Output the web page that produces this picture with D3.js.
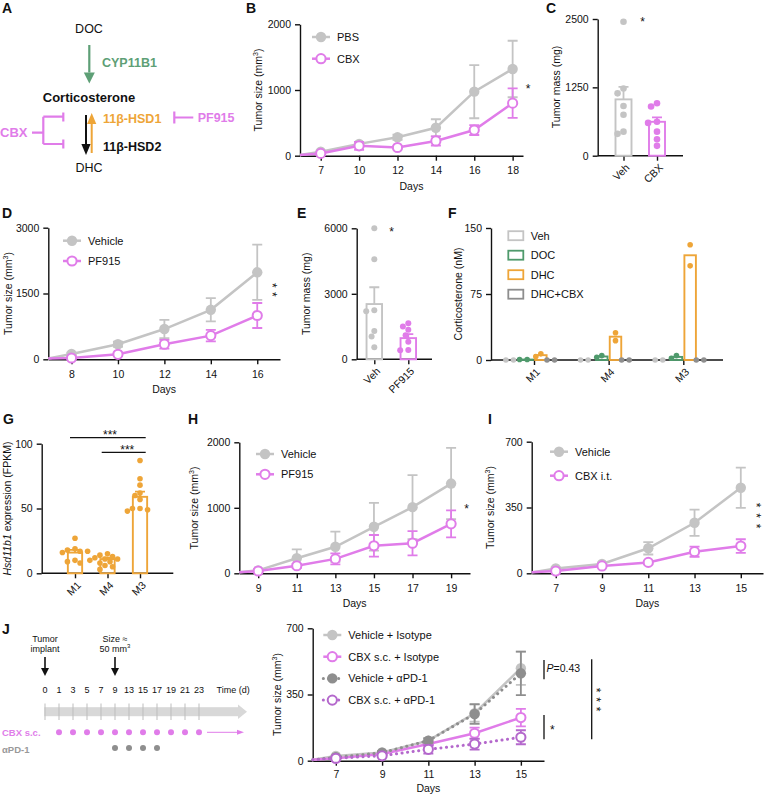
<!DOCTYPE html>
<html>
<head>
<meta charset="utf-8">
<script src="https://cdn.jsdelivr.net/npm/d3@7/dist/d3.min.js"></script>
<style>
  body { margin: 0; background: #fff; }
  svg { display: block; font-family: "Liberation Sans", Arial, Helvetica, sans-serif; }
</style>
</head>
<body>
<svg id="fig" width="765" height="794"></svg>
<script>
// colours
const GRAY = "#c4c4c4", DARK = "#8e8e8e", PINK = "#e07ce9", PURPLE = "#b468cc",
  ORANGE = "#eea538", GREEN = "#4f9a6c", TXTGREEN = "#5e9f76", INK = "#111";

// ---- data ----
// B
const bDays = ["7", "10", "12", "14", "16", "18"];
const bStart = 10;
const bPBS = [60, 180, 280, 425, 975, 1320];
const bPBSSem = [15, 30, 40, 130, 405, 430];
const bCBX = [35, 150, 125, 225, 390, 800];
const bCBXSem = [10, 60, 15, 70, 75, 225];
// C
const cGroups = ["Veh", "CBX"];
const cVeh = [2450, 1230, 1140, 910, 750, 440, 400];
const cCBX = [960, 900, 620, 600, 440, 300, 180];
const cMean = [1030, 620];
const cSem = [230, 80];
// D
const dDays = ["8", "10", "12", "14", "16"];
const dStart = 20;
const dVeh = [120, 343, 690, 1128, 1983];
const dVehSem = [30, 60, 210, 265, 630];
const dPF = [30, 114, 345, 540, 998];
const dPFSem = [10, 40, 100, 130, 285];
// E
const eGroups = ["Veh", "PF915"];
const eVeh = [6000, 4580, 2250, 2200, 1300, 1050, 550];
const ePF = [1650, 1500, 1350, 1100, 800, 430, 420];
const eMean = [2530, 970];
const eSem = [770, 180];
// F
const fGroups = ["M1", "M4", "M3"];
const fConds = ["Veh", "DOC", "DHC", "DHC+CBX"];
const fVeh = [[0, 0], [0, 0], [0, 0]];
const fDOC = [[0.5, 0.5], [3, 5], [2, 5]];
const fDHC = [[4, 7], [31, 22], [131, 107]];
const fDHCCBX = [[0, 0], [0, 0], [0, 0]];
// G
const gGroups = ["M1", "M4", "M3"];
const gM1 = [27, 19, 18, 17, 17, 16, 10, 9, 8];
const gM4 = [15, 14, 13, 12, 11, 11, 10, 9, 8, 6, 5, 3];
const gM3 = [87, 73, 68, 62, 60, 57, 50, 49, 48, 50];
const gMean = [16, 11, 59];
const gSem = [2, 1, 4];
// H
const hDays = ["9", "11", "13", "15", "17", "19"];
const hStart = 15;
const hVeh = [45, 230, 405, 710, 1010, 1370];
const hVehSem = [20, 135, 230, 365, 490, 545];
const hPF = [35, 115, 220, 420, 460, 755];
const hPFSem = [15, 30, 85, 165, 185, 205];
// I
const iDays = ["7", "9", "11", "13", "15"];
const iStart = 5;
const iVeh = [26, 50, 133, 269, 455];
const iVehSem = [5, 6, 33, 70, 107];
const iCBX = [12, 39, 58, 115, 145];
const iCBXSem = [4, 5, 7, 27, 36];
// J schedule
const jTime = ["0", "1", "3", "5", "7", "9", "13", "15", "17", "19", "21", "23"];
const jCBXDose = ["1", "3", "5", "7", "9", "13", "15", "17", "19", "21", "23"];
const jPD1Dose = ["9", "13", "15", "17"];
// J growth
const jDays = ["7", "9", "11", "13", "15"];
const jStart = 5;
const jVehIso = [25, 44, 106, 251, 489];
const jVehIsoSem = [5, 8, 15, 45, 88];
const jCBXIso = [13, 35, 88, 145, 228];
const jCBXIsoSem = [4, 6, 10, 30, 46];
const jVehPD1 = [18, 42, 106, 247, 462];
const jVehPD1Sem = [5, 8, 12, 52, 115];
const jCBXPD1 = [13, 26, 60, 88, 124];
const jCBXPD1Sem = [4, 6, 22, 29, 37];

const svg = d3.select("#fig");

function txt(g, x, y, s, o = {}) {
  return g.append("text").attr("x", x).attr("y", y).text(s)
    .attr("font-size", o.size || 10.5)
    .attr("font-weight", o.bold ? "bold" : null)
    .attr("font-style", o.italic ? "italic" : null)
    .attr("fill", o.color || INK)
    .attr("text-anchor", o.anchor || "start")
    .attr("dy", o.dy || null);
}

// one star, or a vertical column of them drawn as one turned text
function stars(x, y, n = 1, gap = 9.7) {
  if (n === 1) {
    txt(svg, x, y, "*", { size: 12, anchor: "middle", dy: "0.62em" });
    return;
  }
  const mid = y + (n - 1) * gap / 2;
  svg.append("text").text("*".repeat(n))
    .attr("transform", `translate(${x},${mid}) rotate(90)`)
    .attr("text-anchor", "middle").attr("dy", "0.6em")
    .attr("font-size", 12).attr("fill", INK)
    .attr("letter-spacing", gap - 4.67);
}

// rotated axis title; parts may carry a superscript or italics
function yTitle(x, y, parts) {
  const t = svg.append("text")
    .attr("transform", `translate(${x},${y}) rotate(-90)`)
    .attr("text-anchor", "middle").attr("dy", "0.35em")
    .attr("font-size", 10.5).attr("fill", INK);
  parts.forEach(p => {
    const s = t.append("tspan").text(p.t);
    if (p.sup) s.attr("font-size", 7).attr("dy", -4);
    if (p.after) s.attr("dy", 4);
    if (p.it) s.attr("font-style", "italic");
  });
}
const mm3 = [{ t: "Tumor size (mm" }, { t: "3", sup: true }, { t: ")", after: true }];

function styleAxis(a) {
  a.attr("font-size", 10.5).attr("font-family", null);
  a.selectAll("path, line").attr("stroke", INK).attr("stroke-width", 1.4);
  a.selectAll("text").attr("fill", INK);
}

function yAxis(y, left, ticks) {
  const a = svg.append("g").attr("transform", `translate(${left},0)`)
    .call(d3.axisLeft(y).tickValues(ticks).tickSize(5).tickSizeOuter(0)
      .tickPadding(4).tickFormat(d3.format("d")));
  styleAxis(a);
}

function arrow(g, x1, y1, x2, y2, color, hw, head, w) {
  const dir = Math.sign(y2 - y1);
  g.append("line").attr("x1", x1).attr("y1", y1).attr("x2", x2).attr("y2", y2 - dir * head)
    .attr("stroke", color).attr("stroke-width", w);
  g.append("path").attr("d", `M${x2 - hw},${y2 - dir * head}L${x2 + hw},${y2 - dir * head}L${x2},${y2}Z`)
    .attr("fill", color);
}

// ---- line charts ----
function linePanel(o) {
  const x = d3.scaleLinear().domain(o.xPad).range([o.left, o.right]);
  const y = d3.scaleLinear().domain(o.yDomain).range([o.bottom, o.top]);
  yAxis(y, o.left, o.yTicks);
  const xa = svg.append("g").attr("transform", `translate(0,${o.bottom})`)
    .call(d3.axisBottom(x).tickValues(d3.range(o.cats.length)).tickSize(5).tickSizeOuter(0)
      .tickPadding(o.tickPad || 6).tickFormat(i => o.cats[i]));
  styleAxis(xa);
  txt(svg, (o.left + o.right) / 2, o.bottom + (o.daysOff || 34), "Days", { anchor: "middle" });

  o.series.forEach(s => {
    const pts = s.vals.map((v, i) => ({ i, v, e: s.sem[i] }));
    const all = [{ i: o.xPad[0], v: o.start }].concat(pts);
    const g = svg.append("g");
    g.selectAll("path.err").data(pts).join("path").attr("class", "err")
      .attr("d", p => {
        const cx = x(p.i), hi = y(p.v + p.e), lo = y(Math.max(0, p.v - p.e));
        return `M${cx - 5},${hi}h10M${cx},${hi}V${lo}M${cx - 5},${lo}h10`;
      })
      .attr("fill", "none").attr("stroke", s.color).attr("stroke-width", 1.8);
    g.append("path").datum(all)
      .attr("d", d3.line().x(p => x(p.i)).y(p => y(p.v)))
      .attr("fill", "none").attr("stroke", s.color)
      .attr("stroke-width", s.dotted ? 3 : 2.5)
      .attr("stroke-dasharray", s.dotted ? "0.1 5.5" : null)
      .attr("stroke-linecap", s.dotted ? "round" : "butt");
    g.selectAll("circle").data(pts).join("circle")
      .attr("cx", p => x(p.i)).attr("cy", p => y(p.v))
      .attr("r", s.open ? 4.6 : 5.2)
      .attr("fill", s.open ? "#fff" : s.color)
      .attr("stroke", s.open ? s.color : "none").attr("stroke-width", 2);
  });

  // legend
  o.series.forEach((s, k) => {
    const cy = o.legY + k * o.legDy, tx = o.legX;
    svg.append("line").attr("x1", tx - 25).attr("x2", tx - 7).attr("y1", cy).attr("y2", cy)
      .attr("stroke", s.color).attr("stroke-width", s.dotted ? 3 : 2.5)
      .attr("stroke-dasharray", s.dotted ? "0.1 5" : null)
      .attr("stroke-linecap", s.dotted ? "round" : "butt");
    svg.append("circle").attr("cx", tx - 16).attr("cy", cy).attr("r", s.open ? 4.6 : 5.2)
      .attr("fill", s.open ? "#fff" : s.color)
      .attr("stroke", s.open ? s.color : "none").attr("stroke-width", 2);
    txt(svg, tx, cy, s.name, { dy: "0.36em", size: 11 });
  });
  return { x, y };
}

// column scatter positions, like a swarm
function swarm(vals, y, r) {
  const placed = [], off = new Array(vals.length);
  const order = vals.map((v, i) => i).sort((a, b) => vals[b] - vals[a]);
  order.forEach(i => {
    const py = y(vals[i]);
    let best = 0;
    for (let k = 0; k < 30; k++) {
      const cands = k === 0 ? [0] : [-k * r * 0.9, k * r * 0.9];
      const ok = cands.find(c => placed.every(p => Math.hypot(p.x - c, p.y - py) >= 1.9 * r));
      if (ok !== undefined) { best = ok; break; }
    }
    placed.push({ x: best, y: py });
    off[i] = best;
  });
  return off;
}

// ---- bar + dot charts ----
function barPanel(o) {
  const x = d3.scalePoint().domain(o.cats).range(o.catRange);
  const y = d3.scaleLinear().domain(o.yDomain).range([o.bottom, o.top]);
  yAxis(y, o.left, o.yTicks);
  const xa = svg.append("g").attr("transform", `translate(0,${o.bottom})`)
    .call(d3.axisBottom(x).tickSize(5).tickSizeOuter(0).tickFormat(""));
  xa.select(".domain").remove();
  styleAxis(xa);
  svg.append("line").attr("x1", o.left).attr("x2", o.right)
    .attr("y1", o.bottom).attr("y2", o.bottom).attr("stroke", INK).attr("stroke-width", 1.4);
  o.cats.forEach(c => {
    svg.append("text").text(c)
      .attr("transform", `translate(${x(c) + 4},${o.bottom + 10}) rotate(-45)`)
      .attr("text-anchor", "end").attr("dy", "0.35em")
      .attr("font-size", 10.5).attr("fill", INK);
  });
  o.bars.forEach(b => {
    const cx = x(b.cat) + (b.dx || 0);
    const g = svg.append("g");
    if (b.sem) {
      const top = y(b.mean + b.sem);
      g.append("path").attr("d", `M${cx},${y(b.mean)}V${top}M${cx - 5},${top}h10`)
        .attr("stroke", b.color).attr("stroke-width", 1.8).attr("fill", "none");
    }
    g.append("rect").attr("x", cx - o.barW / 2).attr("width", o.barW)
      .attr("y", y(b.mean)).attr("height", o.bottom - y(b.mean))
      .attr("fill", "#fff").attr("fill-opacity", 0).attr("stroke", b.color).attr("stroke-width", 1.9);
    const off = swarm(b.pts, y, o.r);
    g.selectAll("circle").data(b.pts).join("circle")
      .attr("cx", (v, i) => cx + off[i]).attr("cy", v => y(v)).attr("r", o.r)
      .attr("fill", b.color);
  });
  return { x, y };
}

// ================= A =================
const a = svg.append("g");
txt(a, 2, 12.5, "A", { size: 14, bold: true });
txt(a, 89, 33, "DOC", { size: 12.5, anchor: "middle" });
arrow(a, 89.3, 45, 89.3, 83.5, TXTGREEN, 5.5, 11, 2.2);
txt(a, 102, 66.5, "CYP11B1", { size: 12.5, bold: true, color: TXTGREEN });
txt(a, 89, 101.5, "Corticosterone", { size: 13, bold: true, anchor: "middle" });
arrow(a, 86, 115, 86, 155, INK, 4.6, 11, 2);
arrow(a, 91.7, 153, 91.7, 113, ORANGE, 4.6, 11, 2);
txt(a, 103, 123, "11β-HSD1", { size: 12.5, bold: true, color: ORANGE });
txt(a, 103, 151, "11β-HSD2", { size: 12.5, bold: true });
txt(a, 89, 172, "DHC", { size: 12.5, anchor: "middle" });
txt(a, 0, 136.5, "CBX", { size: 13, bold: true, color: PINK });
a.append("path")
  .attr("d", "M32,132.7H43.3M43.3,116.7V144M43.3,116.7H63.3M43.3,144H63.3M63.3,112.5V121.5M63.3,139.5V148.5")
  .attr("fill", "none").attr("stroke", PINK).attr("stroke-width", 2.2);
a.append("path").attr("d", "M174.3,111.5V123.5M174.3,117.5H193.3")
  .attr("fill", "none").attr("stroke", PINK).attr("stroke-width", 2.2);
txt(a, 197.7, 122, "PF915", { size: 12.5, bold: true, color: PINK });

// ================= B =================
txt(svg, 246, 12.5, "B", { size: 14, bold: true });
linePanel({
  left: 300, right: 523, top: 24.3, bottom: 155.7, xPad: [-0.54, 5.27], cats: bDays, start: bStart,
  yDomain: [0, 2000], yTicks: [0, 1000, 2000], legX: 337, legY: 37, legDy: 21.7,
  series: [
    { name: "PBS", vals: bPBS, sem: bPBSSem, color: GRAY },
    { name: "CBX", vals: bCBX, sem: bCBXSem, color: PINK, open: true }
  ]
});
yTitle(258, 90, mm3);
stars(528, 86);

// ================= C =================
txt(svg, 546, 12.5, "C", { size: 14, bold: true });
barPanel({
  left: 597.7, right: 683, top: 19, bottom: 155.7, cats: cGroups, catRange: [623.5, 657],
  yDomain: [0, 2500], yTicks: [0, 1250, 2500], barW: 16, r: 3.3,
  bars: [
    { cat: "Veh", pts: cVeh, mean: cMean[0], sem: cSem[0], color: GRAY },
    { cat: "CBX", pts: cCBX, mean: cMean[1], sem: cSem[1], color: PINK }
  ]
});
yTitle(556, 87, [{ t: "Tumor mass (mg)" }]);
stars(642.7, 19);

// ================= D =================
txt(svg, 2, 218, "D", { size: 14, bold: true });
linePanel({
  left: 48.3, right: 280, top: 227.7, bottom: 359.3, xPad: [-0.5, 4.49], cats: dDays, start: dStart,
  yDomain: [0, 3000], yTicks: [0, 1500, 3000], legX: 88, legY: 240.7, legDy: 20.3,
  series: [
    { name: "Vehicle", vals: dVeh, sem: dVehSem, color: GRAY },
    { name: "PF915", vals: dPF, sem: dPFSem, color: PINK, open: true }
  ]
});
yTitle(8, 293.5, mm3);
stars(275, 287.5, 2, 9.2);

// ================= E =================
txt(svg, 297, 218, "E", { size: 14, bold: true });
barPanel({
  left: 356.7, right: 432, top: 228.3, bottom: 359.3, cats: eGroups, catRange: [374.3, 408.3],
  yDomain: [0, 6000], yTicks: [0, 3000, 6000], barW: 15.5, r: 3,
  bars: [
    { cat: "Veh", pts: eVeh, mean: eMean[0], sem: eSem[0], color: GRAY },
    { cat: "PF915", pts: ePF, mean: eMean[1], sem: eSem[1], color: PINK }
  ]
});
yTitle(306.7, 293.8, [{ t: "Tumor mass (mg)" }]);
stars(391.7, 228.3);

// ================= F =================
txt(svg, 448, 218, "F", { size: 14, bold: true });
{
  const fColors = [GRAY, GREEN, ORANGE, DARK];
  const fData = [fVeh, fDOC, fDHC, fDHCCBX];
  const sub = d3.scaleBand().domain(fConds).range([-27.4, 27.4]);
  const bars = [];
  fGroups.forEach((grp, gi) => {
    fConds.forEach((cond, ci) => {
      const pts = fData[ci][gi];
      bars.push({ cat: grp, dx: sub(cond) + sub.bandwidth() / 2, pts, mean: d3.mean(pts), color: fColors[ci] });
    });
  });
  barPanel({
    left: 491, right: 723, top: 228, bottom: 360, cats: fGroups, catRange: [534, 683.3],
    yDomain: [0, 150], yTicks: [0, 75, 150], barW: 11.5, r: 2.8, bars
  });
  fConds.forEach((c, k) => {
    const cy = 235.7 + k * 19.5;
    svg.append("rect").attr("x", 508.3).attr("y", cy - 4.5).attr("width", 15).attr("height", 9)
      .attr("fill", "#fff").attr("stroke", fColors[k]).attr("stroke-width", 1.8);
    txt(svg, 530.7, cy, c, { dy: "0.36em", size: 11 });
  });
}
yTitle(458.3, 294, [{ t: "Corticosterone (nM)" }]);

// ================= G =================
txt(svg, 3, 423.5, "G", { size: 14, bold: true });
barPanel({
  left: 41.7, right: 173.3, top: 443.7, bottom: 573.3, cats: gGroups, catRange: [75, 140],
  yDomain: [0, 100], yTicks: [0, 50, 100], barW: 14.3, r: 2.8,
  bars: [
    { cat: "M1", pts: gM1, mean: gMean[0], sem: gSem[0], color: ORANGE },
    { cat: "M4", pts: gM4, mean: gMean[1], sem: gSem[1], color: ORANGE },
    { cat: "M3", pts: gM3, mean: gMean[2], sem: gSem[2], color: ORANGE }
  ]
});
yTitle(7, 508.5, [{ t: "Hsd11b1", it: true }, { t: " expression (FPKM)" }]);
svg.append("path").attr("d", "M70,437.7H145.7M101.7,452.3H145.7")
  .attr("stroke", INK).attr("stroke-width", 1.3);
txt(svg, 110, 431.8, "***", { size: 12, anchor: "middle", dy: "0.62em" });
txt(svg, 127.3, 446.5, "***", { size: 12, anchor: "middle", dy: "0.62em" });

// ================= H =================
txt(svg, 188, 423.5, "H", { size: 14, bold: true });
linePanel({
  left: 239.3, right: 470, top: 442.3, bottom: 573.3, xPad: [-0.49, 5.49], cats: hDays, start: hStart,
  yDomain: [0, 2000], yTicks: [0, 1000, 2000], legX: 281, legY: 454, legDy: 20.3,
  series: [
    { name: "Vehicle", vals: hVeh, sem: hVehSem, color: GRAY },
    { name: "PF915", vals: hPF, sem: hPFSem, color: PINK, open: true }
  ]
});
yTitle(194, 508, mm3);
stars(466.7, 505.5);

// ================= I =================
txt(svg, 488, 423.5, "I", { size: 14, bold: true });
linePanel({
  left: 531.7, right: 763, top: 441.7, bottom: 573.3, xPad: [-0.52, 4.48], cats: iDays, start: iStart,
  yDomain: [0, 700], yTicks: [0, 350, 700], legX: 575, legY: 451.7, legDy: 24,
  series: [
    { name: "Vehicle", vals: iVeh, sem: iVehSem, color: GRAY },
    { name: "CBX i.t.", vals: iCBX, sem: iCBXSem, color: PINK, open: true }
  ]
});
yTitle(490, 507.5, mm3);
stars(759, 508, 3, 10.5);

// ================= J (schedule) =================
txt(svg, 2, 633.5, "J", { size: 14, bold: true });
{
  const t = d3.scalePoint().domain(jTime).range([45, 199]);
  const g = svg.append("g");
  txt(g, t("0"), 641.5, "Tumor", { size: 9, anchor: "middle" });
  txt(g, t("0"), 651.5, "implant", { size: 9, anchor: "middle" });
  txt(g, t("9"), 641.5, "Size ≈", { size: 9, anchor: "middle" });
  const s50 = txt(g, t("9"), 651.5, "50 mm", { size: 9, anchor: "middle" });
  s50.append("tspan").text("3").attr("font-size", 6).attr("dy", -3.2);
  arrow(g, t("0"), 657, t("0"), 676, INK, 4, 8, 1.6);
  arrow(g, t("9"), 657, t("9"), 676, INK, 4, 8, 1.6);
  g.selectAll("text.tl").data(jTime).join("text").attr("class", "tl")
    .attr("x", d => t(d)).attr("y", 693.3).attr("text-anchor", "middle")
    .attr("font-size", 9).attr("fill", INK).text(d => d);
  txt(g, 216.5, 693.3, "Time (d)", { size: 9 });
  g.append("rect").attr("x", 44.3).attr("y", 707.2).attr("width", 194).attr("height", 9)
    .attr("fill", "#d8d8d8");
  g.append("path").attr("d", "M238,704.5L247,711.7L238,719Z").attr("fill", "#d8d8d8");
  g.selectAll("line.tk").data(jTime).join("line").attr("class", "tk")
    .attr("x1", d => t(d)).attr("x2", d => t(d)).attr("y1", 703.5).attr("y2", 720)
    .attr("stroke", "#bdbdbd").attr("stroke-width", 1);
  txt(g, 2, 732.3, "CBX s.c.", { size: 9.5, bold: true, color: PINK, dy: "0.36em" });
  g.selectAll("circle.cbx").data(jCBXDose).join("circle").attr("class", "cbx")
    .attr("cx", d => t(d)).attr("cy", 732.3).attr("r", 3).attr("fill", PINK);
  g.append("line").attr("x1", 207).attr("x2", 240).attr("y1", 732.3).attr("y2", 732.3)
    .attr("stroke", PINK).attr("stroke-width", 1);
  g.append("path").attr("d", "M237,729.8L244,732.3L237,734.8Z").attr("fill", PINK);
  txt(g, 2, 750, "αPD-1", { size: 9.5, bold: true, color: "#999", dy: "0.36em" });
  g.selectAll("circle.pd").data(jPD1Dose).join("circle").attr("class", "pd")
    .attr("cx", d => t(d)).attr("cy", 748).attr("r", 3).attr("fill", DARK);
}

// ================= J (growth) =================
linePanel({
  left: 312.7, right: 544, top: 628.3, bottom: 760.7, xPad: [-0.5, 4.5], cats: jDays, start: jStart,
  yDomain: [0, 700], yTicks: [0, 350, 700], legX: 348.3, legY: 635, legDy: 21.7,
  daysOff: 31, tickPad: 5,
  series: [
    { name: "Vehicle + Isotype", vals: jVehIso, sem: jVehIsoSem, color: GRAY },
    { name: "CBX s.c. + Isotype", vals: jCBXIso, sem: jCBXIsoSem, color: PINK, open: true },
    { name: "Vehicle + αPD-1", vals: jVehPD1, sem: jVehPD1Sem, color: DARK, dotted: true },
    { name: "CBX s.c. + αPD-1", vals: jCBXPD1, sem: jCBXPD1Sem, color: PURPLE, open: true, dotted: true }
  ]
});
yTitle(277, 694.5, mm3);
svg.append("path").attr("d", "M544,660V679.3M544,715V739.3M591.7,659.3V739.3")
  .attr("stroke", INK).attr("stroke-width", 1.3);
{
  const p = txt(svg, 546.5, 668.3, "P", { italic: true, dy: "0.36em" });
  p.append("tspan").attr("font-style", "normal").text("=0.43");
}
stars(552.3, 726.5);
stars(599.3, 692.5, 3, 9.5);
</script>
</body>
</html>
